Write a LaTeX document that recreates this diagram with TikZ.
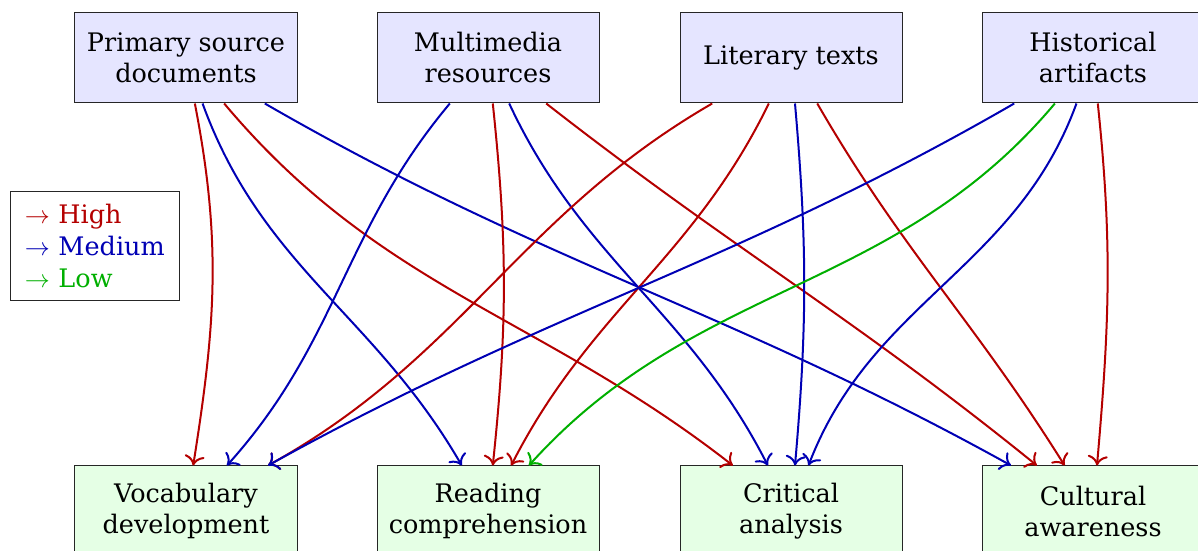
\documentclass[tikz,border=0pt]{standalone}
\usepackage{fontspec}
\setmainfont{DejaVu Serif}
\usetikzlibrary{arrows.meta}
\definecolor{hred}{RGB}{180,0,0}
\definecolor{hblue}{RGB}{0,0,180}
\definecolor{hgreen}{RGB}{0,175,0}
\begin{document}
\begin{tikzpicture}[x=0.4pt,y=0.4pt,
  box/.style={draw=black!85, minimum width=88.8pt, minimum height=36pt, align=center, inner sep=2pt,
    font=\fontsize{10.2}{12.4}\selectfont},
  src/.style={box, fill=blue!10},
  dst/.style={box, fill=green!10},
  tip/.style={-{To[length=4pt,width=8pt]}, thick},
  hr/.style={tip, hred},
  hb/.style={tip, hblue},
  hg/.style={tip, hgreen}]
\useasboundingbox (0,0) rectangle (1198,551);
\node[src] (P) at (186,493) {Primary source\\documents};
\node[src] (M) at (488,493) {Multimedia\\resources};
\node[src] (L) at (791,493) {Literary texts};
\node[src] (H) at (1093,493) {Historical\\artifacts};
\node[dst] (V) at (186,40) {Vocabulary\\development};
\node[dst] (R) at (488,40) {Reading\\comprehension};
\node[dst] (C) at (791,40) {Critical\\analysis};
\node[dst] (A) at (1093,40) {Cultural\\awareness};
\node[draw=black!85, minimum width=67.2pt, minimum height=43.6pt, inner xsep=5.6pt, align=left,
  font=\fontsize{10.2}{12.8}\selectfont, text width=56pt] (legend) at (95,304.5)
  {\textcolor{hred}{$\rightarrow$ High}\\\textcolor{hblue}{$\rightarrow$ Medium}\\\textcolor{hgreen}{$\rightarrow$ Low}};
\draw[hr] (P) to[out=-79,in=81] (V);
\draw[hb] (P) to[out=-70,in=120] (R);
\draw[hr] (P) to[out=-50,in=142] (C);
\draw[hb] (P) to[out=-30,in=151] (A);
\draw[hb] (M) to[out=-130,in=48] (V);
\draw[hr] (M) to[out=-84,in=84] (R);
\draw[hb] (M) to[out=-65,in=117] (C);
\draw[hr] (M) to[out=-38,in=141] (A);
\draw[hr] (L) to[out=-150,in=29] (V);
\draw[hr] (L) to[out=-116,in=63] (R);
\draw[hb] (L) to[out=-85,in=85] (C);
\draw[hr] (L) to[out=-60,in=122] (A);
\draw[hb] (H) to[out=-150,in=29] (V);
\draw[hg] (H) to[out=-130,in=48] (R);
\draw[hb] (H) to[out=-110,in=69] (C);
\draw[hr] (H) to[out=-84,in=85] (A);
\end{tikzpicture}
\end{document}
